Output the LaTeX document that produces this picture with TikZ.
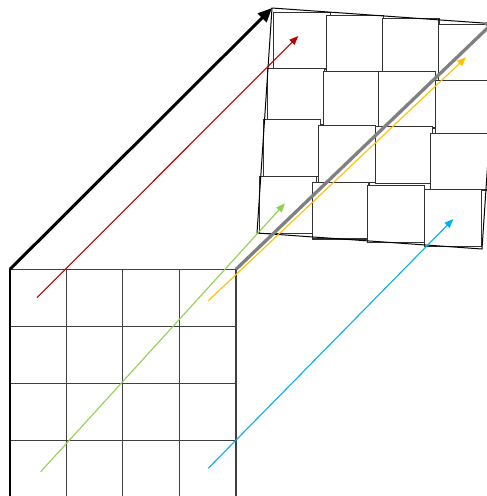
\documentclass[tikz,border=0pt]{standalone}
\usetikzlibrary{arrows.meta}

\definecolor{mapred}{RGB}{192,0,0}
\definecolor{mapgreen}{RGB}{146,208,80}
\definecolor{mapblue}{RGB}{0,176,240}
\definecolor{maporange}{RGB}{255,192,0}

\tikzset{
  cell/.style={draw=black!80, fill=white, line width=1.1pt, minimum size=56.7pt, inner sep=0pt, anchor=north west},
  gridline/.style={draw=black!75, line width=1.2pt},
  maparrow/.style={-{Triangle[length=9pt,width=7pt]}, line width=1.1pt},
  bigarrow/.style={-{Triangle[length=14pt,width=12pt]}, line width=3pt}
}

\begin{document}
\begin{tikzpicture}[x=1pt,y=-1pt]

  \useasboundingbox (0,0) rectangle (487,496);
  \clip (0,0) rectangle (487,496);

  \coordinate (s-nw) at (10,269.3);
  \coordinate (s-ne) at (236,269.3);
  \coordinate (s-sw) at (10,497);
  \coordinate (s-se) at (236,497);

  \draw[gridline] (s-nw) -- (s-ne);
  \draw[gridline] (10,326.7) -- (236,326.7);
  \draw[gridline] (10,383.3) -- (236,383.3);
  \draw[gridline] (10,440.7) -- (236,440.7);
  \draw[gridline] (s-sw) -- (s-se);
  \draw[gridline] (66.7,269.3) -- (66.7,497);
  \draw[gridline] (122.7,269.3) -- (122.7,497);
  \draw[gridline] (179.3,269.3) -- (179.3,497);
  \draw[gridline] (s-ne) -- (s-se);
  \draw[line width=1.8pt] (s-nw) -- (s-sw);

  \node[cell] (t11) at (273,11.7) {};
  \node[cell] (t12) at (326,15) {};
  \node[cell] (t13) at (381.7,18) {};
  \node[cell] (t14) at (438,24) {};

  \node[cell] (t21) at (267.3,67.7) {};
  \node[cell] (t22) at (322.7,70.7) {};
  \node[cell] (t23) at (378.3,70.7) {};
  \node[cell] (t24) at (435,80) {};

  \node[cell] (t31) at (263.3,119.3) {};
  \node[cell] (t32) at (318.3,125.3) {};
  \node[cell] (t33) at (375,126) {};
  \node[cell] (t34) at (430,132.7) {};

  \node[cell] (t41) at (259.3,176) {};
  \node[cell] (t42) at (311.7,181.7) {};
  \node[cell] (t43) at (367.3,185) {};
  \node[cell] (t44) at (424,189.3) {};

  \coordinate (t-nw) at (272,8);
  \coordinate (t-ne) at (497,24);
  \coordinate (t-se) at (482,249);
  \coordinate (t-sw) at (257,233);
  \draw[line width=1pt] (t-nw) -- (t-ne) -- (t-se) -- (t-sw) -- cycle;

  \coordinate (r0) at (37,297.7);
  \coordinate (r1) at (298.3,36);
  \coordinate (g0) at (40.7,471.7);
  \coordinate (g1) at (285,203.3);
  \coordinate (b0) at (208.3,468.3);
  \coordinate (b1) at (453.3,219);
  \coordinate (o0) at (208.3,300.7);
  \coordinate (o1) at (466,57.3);
  \coordinate (k1) at (498,18);

  \draw[bigarrow] (s-nw) -- (t-nw);
  \draw[bigarrow, draw=black!50, fill=black!50, line width=3.3pt] (s-ne) -- (k1);
  \draw[maparrow, mapred] (r0) -- (r1);
  \draw[maparrow, mapgreen] (g0) -- (g1);
  \draw[maparrow, mapblue] (b0) -- (b1);
  \draw[maparrow, maporange] (o0) -- (o1);

\end{tikzpicture}
\end{document}
